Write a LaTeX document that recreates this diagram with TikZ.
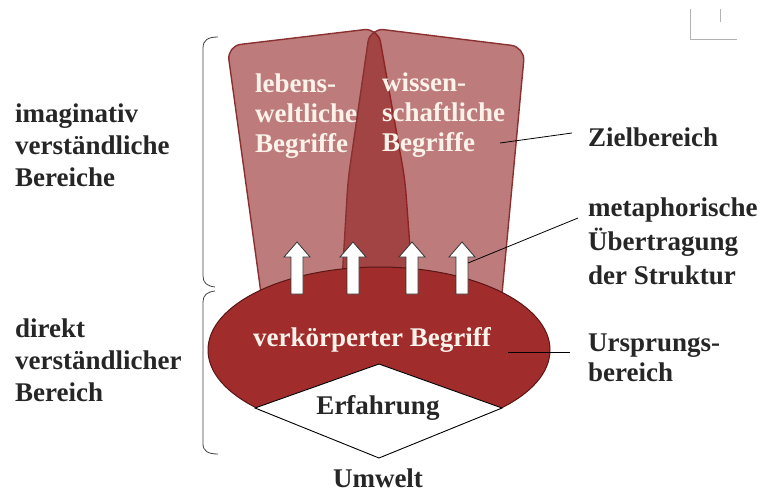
\documentclass[tikz,border=0pt]{standalone}
\usepackage{fontspec}
\setmainfont{Liberation Serif}
\usetikzlibrary{calc}
\definecolor{cardfill}{HTML}{8E1C1C}
\definecolor{cardline}{HTML}{8A3030}
\definecolor{ovalfill}{HTML}{A02C2C}
\definecolor{ovalline}{HTML}{5A1515}
\definecolor{cream}{HTML}{FBF2EA}
\begin{document}
\begin{tikzpicture}[x=1pt,y=-1pt,
  card/.style={fill=cardfill, fill opacity=0.58, draw=cardline, line width=1.4pt, rounded corners=14pt},
  lbl/.style={font=\fontsize{27}{32}\selectfont\bfseries, align=left, inner sep=0pt, text=black!85},
  intext/.style={font=\fontsize{27}{30}\selectfont\bfseries, align=left, inner sep=0pt, text=cream},
  leader/.style={draw=black, line width=0.8pt},
  brk/.style={draw=black!75, line width=0.8pt},
  uparrow/.style={fill=white, draw=black!80, line width=0.8pt}]

\useasboundingbox (0,0) rectangle (767,495);

% cards
\draw[card] (227,46) -- (378,28) -- (405,180) -- (415,315) -- (264,315) -- cycle;
\draw[card] (370,28) -- (525,47) -- (500,315) -- (340,315) -- (348,180) -- cycle;

% oval
\begin{scope}
\clip (0,0) -- (767,0) -- (767,408) -- (502,408) -- (379,458) -- (255,408) -- (0,408) -- cycle;
\draw[fill=ovalfill, draw=ovalline, line width=1pt] (379,350) ellipse [x radius=171pt, y radius=83pt];
\end{scope}

% diamond
\draw[fill=white, draw=black, line width=0.9pt] (255,408) -- (379,364) -- (502,408) -- (379,458) -- cycle;

% arrows
\foreach \cx in {297,353,412,462}
  \draw[uparrow] (\cx-6,294) -- (\cx-6,257) -- (\cx-13,257) -- (\cx,242) -- (\cx+13,257) -- (\cx+6,257) -- (\cx+6,294) -- cycle;

% texts
\node[intext, anchor=west] (lw) at (255,116) {lebens-\\weltliche\\Begriffe};
\node[intext, anchor=west] (ws) at (382,115) {wissen-\\schaftliche\\Begriffe};
\node[intext] (vb) at (372,340) {verkörperter Begriff};
\node[lbl] (erf) at (378,408) {Erfahrung};
\node[lbl] (umw) at (378,478) {Umwelt};

\node[lbl, anchor=west] (imag) at (15,145) {imaginativ\\verständliche\\Bereiche};
\node[lbl, anchor=west] (dir) at (15,360) {direkt\\verständlicher\\Bereich};

\node[lbl, anchor=west] (ziel) at (588,137) {Zielbereich};
\node[lbl, anchor=west, font=\fontsize{27}{34}\selectfont\bfseries] (meta) at (588,241) {metaphorische\\Übertragung\\der Struktur};
\node[lbl, anchor=west, font=\fontsize{27}{30}\selectfont\bfseries] (urs) at (588,358) {Ursprungs-\\bereich};

% leaders
\coordinate (zstart) at (500,143);
\draw[leader] (zstart) -- ($(ziel.west)+(-16,-4)$);
\coordinate (mstart) at (468,263);
\draw[leader] (mstart) -- ($(meta.west)+(-10,-23)$);
\coordinate (ustart) at (508,352);
\draw[leader] (ustart) -- ($(urs.west)+(-18,-6)$);

% brackets
\draw[brk] (218,37) .. controls (208,37) and (203,40) .. (203,48) -- (203,276) .. controls (203,283) and (207,286) .. (215,287);
\draw[brk] (215,291) .. controls (207,292) and (203,295) .. (203,302) -- (203,444) .. controls (203,451) and (208,454) .. (218,454);

% corner mark
\draw[black!30, line width=1pt] (690,9) -- (690,40) -- (737,40);
\draw[black!30, line width=1pt] (720,9) -- (720,22);
\end{tikzpicture}
\end{document}
